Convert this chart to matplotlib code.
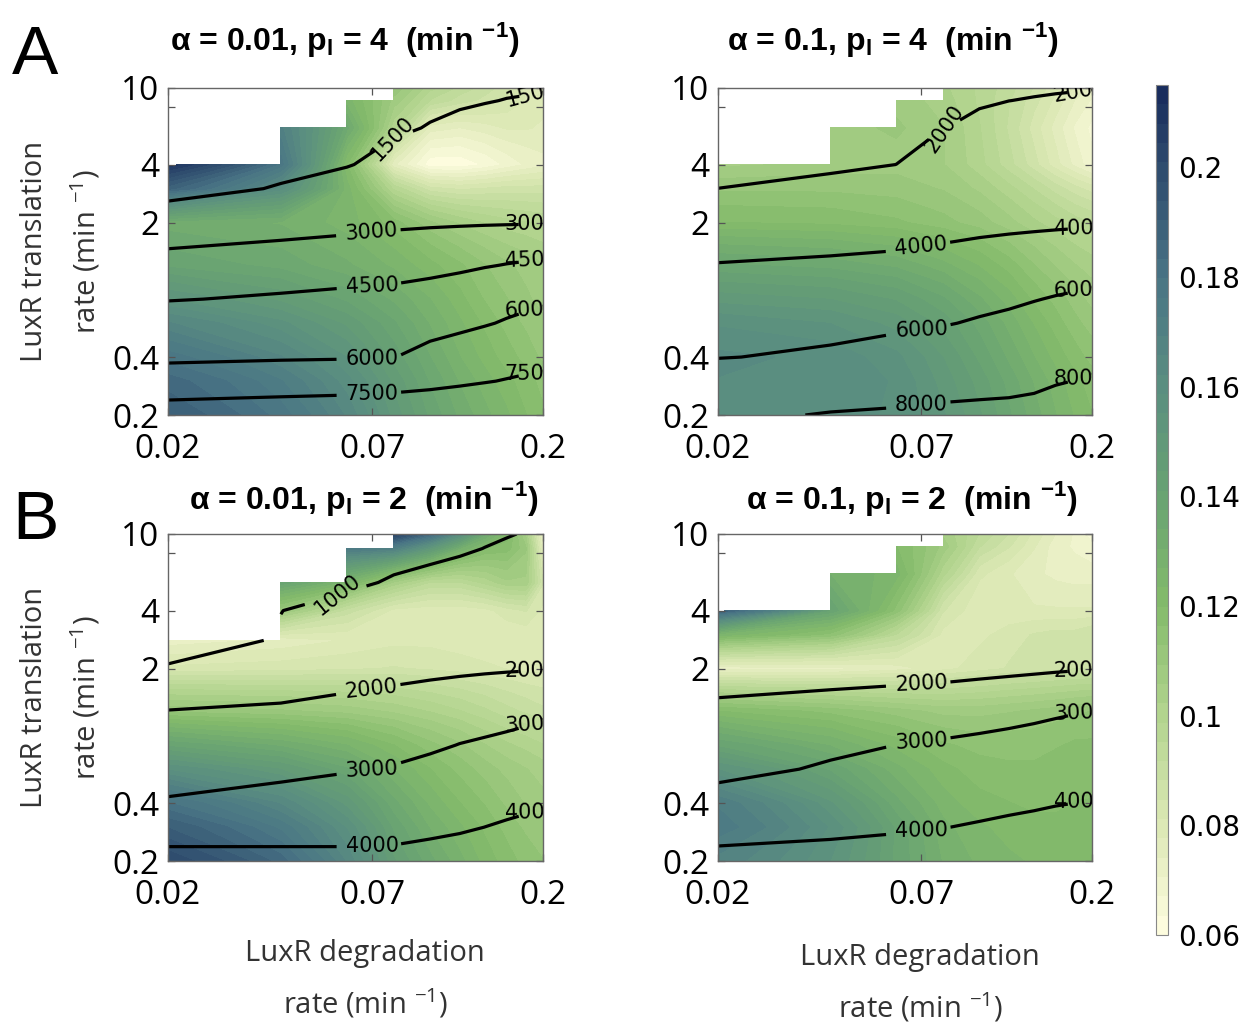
import numpy as np
import matplotlib
matplotlib.use("Agg")
import matplotlib.pyplot as plt
from matplotlib.colors import LinearSegmentedColormap
from matplotlib.ticker import FixedLocator, FixedFormatter, NullLocator

nan = np.nan

# ---------------- data ----------------
x_deg = [0.02, 0.04, 0.06, 0.08, 0.10, 0.12, 0.14, 0.16, 0.18, 0.20]
y_trans = [0.2, 0.3, 0.4, 0.6, 0.8, 1.2, 2, 3, 4, 6.2, 8.6, 10]
y_trans_b1 = [0.2, 0.3, 0.4, 0.6, 0.8, 1.2, 2, 2.8, 4, 5.6, 8.4, 10]

# colour field, rows = translation rate (bottom -> top), cols = degradation rate
z_a1 = [
    [0.190, 0.178, 0.165, 0.150, 0.140, 0.133, 0.128, 0.124, 0.120, 0.117],
    [0.185, 0.173, 0.160, 0.147, 0.137, 0.130, 0.125, 0.121, 0.118, 0.115],
    [0.178, 0.166, 0.155, 0.143, 0.134, 0.127, 0.122, 0.118, 0.115, 0.112],
    [0.166, 0.156, 0.147, 0.138, 0.130, 0.124, 0.119, 0.115, 0.112, 0.110],
    [0.155, 0.147, 0.140, 0.133, 0.127, 0.121, 0.116, 0.113, 0.110, 0.108],
    [0.140, 0.136, 0.131, 0.126, 0.121, 0.117, 0.113, 0.110, 0.108, 0.106],
    [0.132, 0.130, 0.125, 0.118, 0.110, 0.105, 0.102, 0.100, 0.099, 0.098],
    [0.188, 0.160, 0.125, 0.098, 0.086, 0.084, 0.085, 0.086, 0.086, 0.086],
    [0.210, 0.178, 0.120, 0.075, 0.061, 0.061, 0.064, 0.068, 0.071, 0.073],
    [nan, 0.170, 0.135, 0.100, 0.076, 0.074, 0.076, 0.078, 0.078, 0.077],
    [nan, nan, 0.125, 0.108, 0.095, 0.090, 0.087, 0.084, 0.081, 0.079],
    [nan, nan, nan, 0.112, 0.100, 0.094, 0.090, 0.086, 0.080, 0.075],
]
z_a2 = [
    [0.160, 0.160, 0.158, 0.152, 0.145, 0.138, 0.132, 0.127, 0.123, 0.120],
    [0.162, 0.162, 0.158, 0.150, 0.143, 0.136, 0.130, 0.125, 0.121, 0.118],
    [0.163, 0.161, 0.156, 0.148, 0.140, 0.133, 0.127, 0.122, 0.118, 0.115],
    [0.158, 0.155, 0.150, 0.143, 0.136, 0.129, 0.123, 0.118, 0.114, 0.111],
    [0.150, 0.148, 0.144, 0.138, 0.131, 0.125, 0.119, 0.115, 0.111, 0.108],
    [0.138, 0.136, 0.133, 0.128, 0.123, 0.118, 0.113, 0.109, 0.106, 0.104],
    [0.120, 0.119, 0.117, 0.114, 0.111, 0.107, 0.103, 0.100, 0.097, 0.095],
    [0.112, 0.112, 0.111, 0.109, 0.105, 0.100, 0.095, 0.090, 0.086, 0.083],
    [0.105, 0.107, 0.108, 0.106, 0.100, 0.093, 0.086, 0.079, 0.073, 0.068],
    [nan, 0.108, 0.110, 0.106, 0.099, 0.091, 0.083, 0.076, 0.070, 0.066],
    [nan, nan, 0.108, 0.104, 0.098, 0.092, 0.086, 0.080, 0.074, 0.070],
    [nan, nan, nan, 0.103, 0.098, 0.093, 0.088, 0.082, 0.077, 0.073],
]
z_b1 = [
    [0.200, 0.185, 0.165, 0.145, 0.135, 0.128, 0.122, 0.118, 0.115, 0.113],
    [0.190, 0.175, 0.158, 0.140, 0.130, 0.124, 0.119, 0.115, 0.112, 0.110],
    [0.180, 0.165, 0.150, 0.135, 0.126, 0.120, 0.116, 0.112, 0.109, 0.107],
    [0.158, 0.148, 0.138, 0.127, 0.120, 0.115, 0.111, 0.108, 0.106, 0.104],
    [0.140, 0.133, 0.127, 0.120, 0.114, 0.110, 0.106, 0.103, 0.101, 0.099],
    [0.112, 0.110, 0.108, 0.105, 0.102, 0.099, 0.096, 0.093, 0.091, 0.089],
    [0.082, 0.083, 0.084, 0.085, 0.084, 0.083, 0.082, 0.081, 0.080, 0.080],
    [0.072, 0.075, 0.078, 0.080, 0.080, 0.079, 0.078, 0.078, 0.078, 0.078],
    [nan, 0.110, 0.090, 0.080, 0.079, 0.079, 0.080, 0.083, 0.085, 0.080],
    [nan, 0.140, 0.125, 0.105, 0.095, 0.095, 0.100, 0.105, 0.105, 0.085],
    [nan, nan, 0.175, 0.170, 0.150, 0.130, 0.120, 0.118, 0.110, 0.075],
    [nan, nan, nan, 0.205, 0.185, 0.160, 0.135, 0.122, 0.105, 0.070],
]
z_b2 = [
    [0.168, 0.155, 0.140, 0.130, 0.126, 0.124, 0.123, 0.122, 0.122, 0.122],
    [0.175, 0.158, 0.140, 0.128, 0.124, 0.122, 0.121, 0.121, 0.121, 0.121],
    [0.172, 0.152, 0.135, 0.125, 0.121, 0.120, 0.119, 0.119, 0.120, 0.120],
    [0.155, 0.140, 0.128, 0.121, 0.118, 0.117, 0.117, 0.118, 0.118, 0.119],
    [0.140, 0.130, 0.122, 0.117, 0.115, 0.115, 0.115, 0.116, 0.117, 0.117],
    [0.120, 0.115, 0.111, 0.108, 0.108, 0.109, 0.110, 0.111, 0.112, 0.113],
    [0.072, 0.073, 0.076, 0.080, 0.083, 0.085, 0.086, 0.087, 0.088, 0.088],
    [0.125, 0.115, 0.095, 0.080, 0.080, 0.083, 0.085, 0.086, 0.086, 0.088],
    [0.190, 0.140, 0.115, 0.085, 0.078, 0.078, 0.078, 0.078, 0.078, 0.078],
    [nan, 0.130, 0.125, 0.100, 0.082, 0.078, 0.075, 0.073, 0.072, 0.072],
    [nan, nan, 0.120, 0.108, 0.092, 0.085, 0.078, 0.072, 0.070, 0.068],
    [nan, nan, nan, 0.105, 0.095, 0.088, 0.080, 0.074, 0.070, 0.065],
]

# contour field (black lines)
c_a1 = [
    [8080, 8205, 8285, 8363, 8313, 8335, 8357, 8393, 8438, 8463],
    [6600, 6756, 6831, 6950, 7165, 7324, 7449, 7552, 7643, 7704],
    [5770, 5868, 5911, 5977, 6352, 6608, 6806, 6957, 7080, 7162],
    [5007, 5155, 5257, 5328, 5509, 5694, 5905, 6117, 6286, 6407],
    [4452, 4649, 4792, 4866, 5006, 5148, 5305, 5469, 5643, 5812],
    [3429, 3622, 3807, 3945, 4111, 4272, 4428, 4541, 4626, 4730],
    [2115, 2428, 2588, 2737, 2803, 2843, 2873, 2893, 2906, 2918],
    [1063, 1611, 1918, 2229, 2359, 2436, 2480, 2512, 2531, 2548],
    [500, 1032, 1443, 1869, 2045, 2147, 2202, 2243, 2265, 2287],
    [nan, 600, 800, 1320, 1566, 1708, 1778, 1831, 1860, 1887],
    [nan, nan, 600, 909, 1207, 1379, 1461, 1524, 1556, 1588],
    [nan, nan, nan, 720, 1041, 1228, 1314, 1382, 1417, 1451],
]
c_a2 = [
    [7805, 8079, 8179, 8285, 8320, 8341, 8424, 8635, 8770, 8880],
    [6707, 7009, 7247, 7408, 7522, 7600, 7705, 7893, 8024, 8134],
    [5954, 6252, 6588, 6787, 6958, 7075, 7195, 7368, 7497, 7607],
    [5253, 5438, 5696, 5908, 6160, 6334, 6476, 6627, 6752, 6862],
    [4754, 4915, 5109, 5274, 5499, 5722, 5942, 6101, 6222, 6332],
    [4052, 4180, 4285, 4382, 4516, 4649, 4781, 4917, 5048, 5200],
    [2919, 3167, 3299, 3535, 3638, 3691, 3726, 3755, 3776, 3803],
    [2008, 2346, 2533, 2975, 3146, 3220, 3260, 3292, 3314, 3341],
    [1360, 1765, 2005, 2579, 2797, 2887, 2930, 2964, 2988, 3015],
    [nan, 900, 1500, 1975, 2266, 2378, 2426, 2464, 2490, 2517],
    [nan, nan, 1200, 1523, 1868, 1995, 2050, 2090, 2117, 2144],
    [nan, nan, nan, 1300, 1685, 1850, 1876, 1918, 1946, 1973],
]
c_b1 = [
    [4263, 4204, 4170, 4176, 4233, 4288, 4371, 4438, 4495, 4559],
    [3561, 3660, 3717, 3762, 3846, 3918, 4002, 4071, 4130, 4195],
    [3064, 3274, 3396, 3468, 3572, 3656, 3741, 3812, 3872, 3937],
    [2660, 2792, 2943, 3054, 3185, 3285, 3373, 3445, 3508, 3572],
    [2395, 2494, 2622, 2724, 2877, 3022, 3111, 3185, 3248, 3313],
    [2021, 2073, 2170, 2250, 2349, 2450, 2551, 2654, 2757, 2880],
    [1020, 1598, 1717, 1789, 1834, 1870, 1899, 1922, 1939, 1951],
    [880, 1030, 1452, 1549, 1605, 1649, 1691, 1723, 1748, 1769],
    [nan, 995, 1170, 1295, 1362, 1416, 1470, 1512, 1546, 1575],
    [nan, 800, 904, 1055, 1132, 1195, 1260, 1313, 1355, 1392],
    [nan, nan, 700, 766, 856, 929, 1009, 1073, 1125, 1172],
    [nan, nan, nan, 650, 737, 815, 902, 970, 1030, 1078],
]
c_b2 = [
    [4222, 4247, 4293, 4357, 4424, 4488, 4540, 4601, 4644, 4677],
    [3657, 3828, 3918, 3987, 4055, 4119, 4170, 4227, 4268, 4301],
    [3257, 3532, 3652, 3725, 3795, 3857, 3908, 3963, 4001, 4034],
    [2789, 3114, 3277, 3355, 3426, 3487, 3539, 3589, 3624, 3658],
    [2514, 2780, 3010, 3092, 3164, 3225, 3276, 3323, 3357, 3390],
    [2128, 2278, 2413, 2507, 2615, 2713, 2806, 2892, 2957, 3013],
    [1641, 1646, 1653, 1681, 1740, 1793, 1842, 1890, 1928, 1963],
    [1254, 1300, 1350, 1400, 1450, 1500, 1550, 1600, 1620, 1640],
    [1000, 1100, 1200, 1250, 1300, 1350, 1400, 1450, 1470, 1490],
    [nan, 1000, 1100, 1150, 1200, 1250, 1300, 1350, 1370, 1390],
    [nan, nan, 1050, 1100, 1150, 1200, 1250, 1300, 1320, 1340],
    [nan, nan, nan, 1080, 1120, 1170, 1220, 1270, 1290, 1310],
]

levels_a1 = [1500, 3000, 4500, 6000, 7500]
levels_a2 = [2000, 4000, 6000, 8000]
levels_b1 = [1000, 2000, 3000, 4000]
levels_b2 = [2000, 3000, 4000]

# contour label anchor points (degradation, translation)
labpos_a1 = [(0.08, 5.4), (0.186, 9.3), (0.07, 1.6), (0.186, 1.82), (0.07, 0.99),
             (0.186, 1.29), (0.07, 0.385), (0.186, 0.71), (0.07, 0.252), (0.186, 0.33)]
labpos_a2 = [(0.081, 6.1), (0.186, 9.5), (0.07, 1.4), (0.186, 1.9), (0.07, 0.548),
             (0.186, 0.8), (0.07, 0.216), (0.186, 0.33)]
labpos_b1 = [(0.0575, 4.8), (0.07, 1.4), (0.186, 1.85), (0.07, 0.594), (0.186, 0.9),
             (0.07, 0.233), (0.186, 0.33)]
labpos_b2 = [(0.07, 1.6), (0.186, 2.0), (0.07, 0.84), (0.186, 1.5), (0.07, 0.286),
             (0.186, 0.5)]

titles = [
    "\u03b1 = 0.01, p$_\\mathregular{l}$ = 4  (min $^\\mathregular{-1}$)",
    "\u03b1 = 0.1, p$_\\mathregular{l}$ = 4  (min $^\\mathregular{-1}$)",
    "\u03b1 = 0.01, p$_\\mathregular{l}$ = 2  (min $^\\mathregular{-1}$)",
    "\u03b1 = 0.1, p$_\\mathregular{l}$ = 2  (min $^\\mathregular{-1}$)",
]
panel_letters = ["A", "B"]
xtick_vals = [0.02, 0.07, 0.2]
xtick_labels = ["0.02", "0.07", "0.2"]
ytick_vals = [0.2, 0.4, 2, 4, 8, 10]
ytick_labels = ["0.2", "0.4", "2", "4", "", "10"]
cbar_ticks = [0.06, 0.08, 0.1, 0.12, 0.14, 0.16, 0.18, 0.2]
cbar_labels = ["0.06", "0.08", "0.1", "0.12", "0.14", "0.16", "0.18", "0.2"]
zmin, zmax = 0.06, 0.215

ylabel_lines = ["LuxR translation", "rate (min $^\\mathregular{-1}$)"]
xlabel_lines = ["LuxR degradation", "rate (min $^\\mathregular{-1}$)"]

# ---------------- style ----------------
cmap = LinearSegmentedColormap.from_list("ygb", [
    (0.000, "#fffde1"),
    (0.129, "#dce8b5"),
    (0.258, "#b2d48e"),
    (0.387, "#84bb6b"),
    (0.516, "#69a372"),
    (0.645, "#5a8e80"),
    (0.774, "#497485"),
    (0.903, "#2e4b6d"),
    (1.000, "#172a5c"),
])
fill_levels = np.linspace(zmin, zmax, 45)

W, H = 1246, 1026
fig = plt.figure(figsize=(W / 100, H / 100), dpi=100)

def fx(px):
    return px / W

def fy(py):
    return 1 - py / H

tick_family = ["Open Sans", "DejaVu Sans"]
label_font = ["Open Sans", "DejaVu Sans"]
title_font = ["Liberation Sans", "DejaVu Sans"]

panels = [
    dict(rect=(168, 88, 543, 415), y=y_trans, z=z_a1, c=c_a1, lev=levels_a1, lab=labpos_a1),
    dict(rect=(718, 88, 1092, 415), y=y_trans, z=z_a2, c=c_a2, lev=levels_a2, lab=labpos_a2),
    dict(rect=(168, 534, 543, 861), y=y_trans_b1, z=z_b1, c=c_b1, lev=levels_b1, lab=labpos_b1),
    dict(rect=(718, 534, 1092, 861), y=y_trans, z=z_b2, c=c_b2, lev=levels_b2, lab=labpos_b2),
]
title_pos = [(345, 50), (893, 50), (364, 509), (912, 509)]

first_cf = None
for i, p in enumerate(panels):
    l, t, r, b = p["rect"]
    ax = fig.add_axes([fx(l), fy(b), fx(r - l), (b - t) / H])
    X = np.array(x_deg)
    Y = np.array(p["y"])
    Z = np.ma.masked_invalid(np.array(p["z"], dtype=float))
    C = np.ma.masked_invalid(np.array(p["c"], dtype=float))
    cf = ax.contourf(X, Y, Z, levels=fill_levels, cmap=cmap, corner_mask=False,
                     vmin=zmin, vmax=zmax)
    if first_cf is None:
        first_cf = cf
    cs = ax.contour(X, Y, C, levels=p["lev"], colors="black", linewidths=2.3,
                    corner_mask=False)
    ax.clabel(cs, fmt="%d", inline=True, inline_spacing=2, fontsize=15,
              manual=p["lab"])
    for tx in cs.labelTexts:
        tx.set_clip_box(ax.bbox)
        tx.set_clip_on(True)
        tx.set_family("DejaVu Sans")
    ax.set_xscale("log")
    ax.set_yscale("log")
    ax.set_xlim(0.02, 0.2)
    ax.set_ylim(0.2, 10)
    ax.xaxis.set_major_locator(FixedLocator(xtick_vals))
    ax.xaxis.set_major_formatter(FixedFormatter(xtick_labels))
    ax.yaxis.set_major_locator(FixedLocator(ytick_vals))
    ax.yaxis.set_major_formatter(FixedFormatter(ytick_labels))
    ax.xaxis.set_minor_locator(NullLocator())
    ax.yaxis.set_minor_locator(NullLocator())
    ax.tick_params(which="both", direction="in", top=True, right=True, length=5,
                   width=0.9, color="#555555", labelcolor="black")
    ax.tick_params(axis="x", pad=13)
    ax.tick_params(axis="y", pad=6)
    for lab in ax.get_xticklabels() + ax.get_yticklabels():
        lab.set_fontfamily(tick_family)
        lab.set_fontsize(24)
    for sp in ax.spines.values():
        sp.set_color("#666666")
        sp.set_linewidth(1.0)
    ax.set_facecolor("white")

    tx_, ty_ = title_pos[i]
    fig.text(fx(tx_), fy(ty_), titles[i], ha="center", va="baseline",
             fontsize=23, fontweight="bold", family=title_font)

# panel letters
fig.text(fx(12), fy(74), panel_letters[0], fontsize=50, family=["Liberation Sans", "DejaVu Sans"],
         va="baseline", ha="left")
fig.text(fx(12), fy(539), panel_letters[1], fontsize=50, family=["Liberation Sans", "DejaVu Sans"],
         va="baseline", ha="left")

# y labels
for cy in [251.5, 697.5]:
    fig.text(fx(35), fy(cy), ylabel_lines[0], rotation=90, ha="center", va="center",
             fontsize=21, family=label_font, color="#333333")
    fig.text(fx(86), fy(cy), ylabel_lines[1], rotation=90, ha="center", va="center",
             fontsize=21, family=label_font, color="#333333")

# x labels
for cx, cy in [(365, 953), (920, 957)]:
    fig.text(fx(cx), fy(cy), xlabel_lines[0], ha="center", va="center",
             fontsize=21, family=label_font, color="#333333")
    fig.text(fx(cx), fy(cy + 51), xlabel_lines[1], ha="center", va="center",
             fontsize=21, family=label_font, color="#333333")

# colorbar
cax = fig.add_axes([fx(1156), fy(935), fx(12), 850 / H])
cb = fig.colorbar(first_cf, cax=cax)
cb.set_ticks(cbar_ticks)
cb.set_ticklabels(cbar_labels)
cb.ax.tick_params(length=0, pad=7, labelsize=20)
for lab in cb.ax.get_yticklabels():
    lab.set_fontfamily("DejaVu Sans")
cb.outline.set_edgecolor("#888888")
cb.outline.set_linewidth(0.8)

fig.savefig("out.png", dpi=100)
